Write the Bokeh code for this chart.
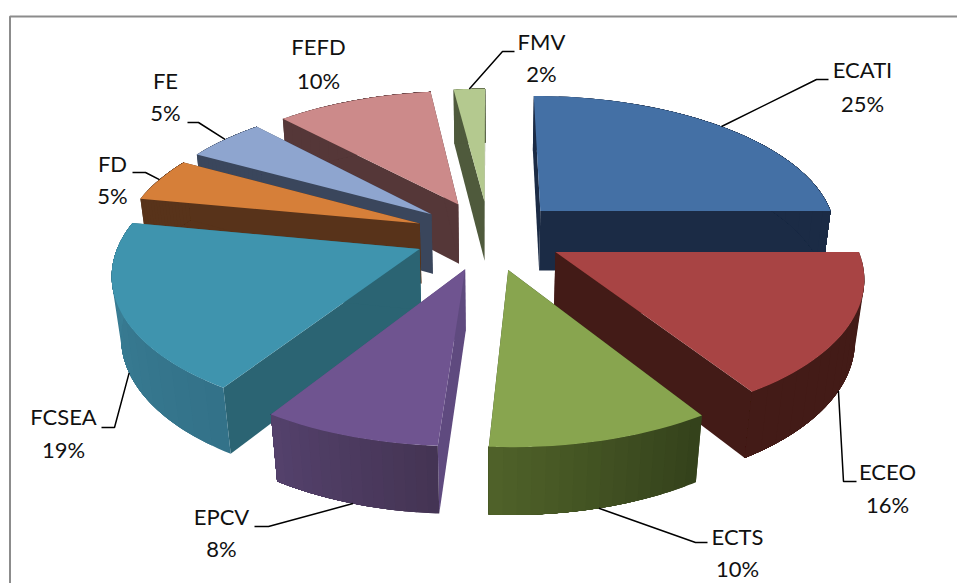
from math import sin, cos, pi
from bokeh.plotting import figure
from bokeh.models import Range1d
from bokeh.core.properties import value
from bokeh.embed import file_html
from bokeh.resources import INLINE

categories = ["ECATI", "ECEO", "ECTS", "EPCV", "FCSEA", "FD", "FE", "FEFD", "FMV"]
values = [25, 16, 10, 8, 19, 5, 5, 10, 2]

top_colors = ["#4470a5", "#a84444", "#88a54f", "#6f5490", "#3f94ae", "#d67f39", "#8ea5cf", "#cc8a8a", "#b4c98f"]
wall_colors = ["#1b2b45", "#431b17", "#35431c", "#5f4a7f", "#2b6473", "#58331a", "#3a465c", "#553738", "#4f5a3c"]
rim_left = ["#1b2b45", "#431b17", "#506229", "#54416c", "#3b8199", "#58331a", "#3a465c", "#553738", "#4f5a3c"]
rim_right = ["#1b2b45", "#431b17", "#33411b", "#443453", "#337288", "#58331a", "#3a465c", "#553738", "#4f5a3c"]
draw_order = [0, 8, 7, 6, 5, 4, 1, 3, 2]

# projection of a unit pie with perspective
CX, CY, RX, RY, K, M, H, EXPLODE = 488.5, 234.5, 298, 139, 0.15, 0.0245, 62, 0.25

def proj(X, Y, D=0):
    w = 1 + K * Y + M * D
    return CX + RX * X / w, CY + (-RY * Y + H * D) / w

def mix(a, b, t):
    pa = [int(a[i:i + 2], 16) for i in (1, 3, 5)]
    pb = [int(b[i:i + 2], 16) for i in (1, 3, 5)]
    return "#%02x%02x%02x" % tuple(round(u + (v - u) * t) for u, v in zip(pa, pb))

total = sum(values)
xs, ys, colors = [], [], []
def add(points, color):
    xs.append([q[0] for q in points])
    ys.append([q[1] for q in points])
    colors.append(color)

spans = []
acc = 0
for v in values:
    spans.append((acc / total * 2 * pi, (acc + v) / total * 2 * pi))
    acc += v

def rim(i, a, D=0, r=1.0):
    s, e = spans[i]
    mid = (s + e) / 2
    ox, oy = EXPLODE * sin(mid), EXPLODE * cos(mid)
    return proj(ox + r * sin(a), oy + r * cos(a), D)

for i in draw_order:
    s, e = spans[i]
    n = max(6, int((e - s) * 30))
    angs = [s + (e - s) * j / n for j in range(n + 1)]
    apex_t, apex_b = rim(i, s, 0, 0), rim(i, s, 1, 0)
    add([apex_t, rim(i, s, 0), rim(i, s, 1), apex_b], wall_colors[i])
    add([apex_t, rim(i, e, 0), rim(i, e, 1), apex_b], wall_colors[i])
    bands = 16
    fine = 3
    for j in range(bands):
        # each band runs to the slice's end, so the next one paints over it and no seam shows
        aa = [s + (e - s) * (j + (bands - j) * q / (fine * bands)) / bands for q in range(fine * bands + 1)]
        t = 1 - (j + 0.5) / bands if cos((s + e) / 2) < 0 else (j + 0.5) / bands
        add([rim(i, a, 0) for a in aa] + [rim(i, a, 1) for a in reversed(aa)],
            mix(rim_left[i], rim_right[i], t))
    add([apex_t] + [rim(i, a, 0) for a in angs], top_colors[i])

p = figure(width=957, height=583, output_backend="svg", toolbar_location=None,
           x_range=Range1d(0, 957), y_range=Range1d(583, 0),
           min_border=0, outline_line_color=None, background_fill_color="white")
p.axis.visible = False
p.grid.visible = False

# chart frame
p.line([9.5, 9.5, 957], [583, 16, 16], line_color="#8c8c8c", line_width=2)
p.patches(xs, ys, fill_color=colors, line_color=None)

# leaders: rim anchor (from the slice), then elbow and end
leader_depth = [0, 1, 1, 1, 1, 0, 0, None, 0]
elbows = [[(816, 79), (828, 79)], [(843, 481), (856, 481)], [(695, 542), (707, 542)],
          [(268, 526), (254, 526)], [(114, 427), (101, 427)], [(145, 172), (132, 172)],
          [(198, 122), (187, 122)], None, [(502, 51), (514, 51)]]
for i, el in enumerate(elbows):
    if el is None:
        continue
    a = rim(i, sum(spans[i]) / 2, leader_depth[i])
    p.line([a[0], el[0][0], el[1][0]], [a[1], el[0][1], el[1][1]], line_color="black", line_width=1.5)

label_x = [862, 887, 737, 221, 63, 112, 165, 318, 541]
label_y1 = [69, 471, 536, 516, 416, 163, 80, 46, 41]
label_y2 = [103, 504, 568, 548, 449, 195, 112, 80, 73]
p.text(label_x, label_y1, text=categories, text_font=value("Lato"), text_font_size="22px",
       text_align="center", text_baseline="middle", text_color="#111111")
p.text(label_x, label_y2, text=[f"{v}%" for v in values], text_font=value("Lato"), text_font_size="22px",
       text_align="center", text_baseline="middle", text_color="#111111")

open("out.html", "w").write(file_html(p, INLINE))
